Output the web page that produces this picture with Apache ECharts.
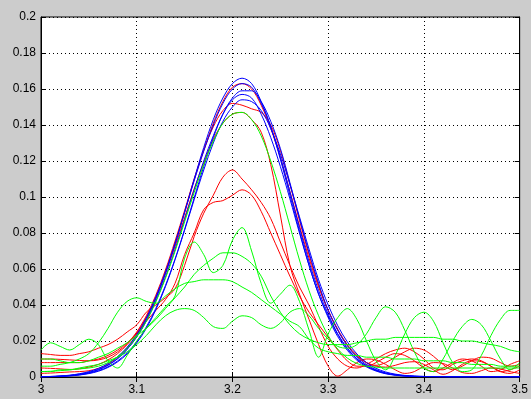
<!DOCTYPE html>
<html>
<head>
<meta charset="utf-8">
<script src="https://cdn.jsdelivr.net/npm/echarts@6/dist/echarts.min.js"></script>
<style>
  html, body { margin: 0; padding: 0; background: #cccccc; }
  #chart { width: 531px; height: 399px; }
</style>
</head>
<body>
<div id="chart"></div>
<script>
// Sample positions shared by every trace
const xs = [3.00,3.01,3.02,3.03,3.04,3.05,3.06,3.07,3.08,3.09,
            3.10,3.11,3.12,3.13,3.14,3.15,3.16,3.17,3.18,3.19,
            3.20,3.21,3.22,3.23,3.24,3.25,3.26,3.27,3.28,3.29,
            3.30,3.31,3.32,3.33,3.34,3.35,3.36,3.37,3.38,3.39,
            3.40,3.41,3.42,3.43,3.44,3.45,3.46,3.47,3.48,3.49,3.50];

const xTicks = [3, 3.1, 3.2, 3.3, 3.4, 3.5];
const yTicks = [0, 0.02, 0.04, 0.06, 0.08, 0.1, 0.12, 0.14, 0.16, 0.18, 0.2];

// Blue traces
const blue1 = [0.0001,0.0002,0.0004,0.0008,0.0014,0.0024,0.0040,0.0065,0.0101,0.0154,
  0.0224,0.0317,0.0435,0.0576,0.0739,0.0916,0.110,0.1275,0.143,0.155,
  0.163,0.166,0.163,0.153,0.139,0.121,0.101,0.081,0.062,0.046,
  0.033,0.0224,0.0148,0.0093,0.0056,0.0033,0.0018,0.0010,0.0005,0.0003,
  0.0002,0.0002,0.0001,0.0001,0.0001,0.0001,0.0001,0.0001,0.0001,0.0001,0.0001];
const blue2 = [0.0002,0.0003,0.0006,0.0010,0.0018,0.0030,0.0048,0.0075,0.0113,0.0166,
  0.0236,0.0328,0.0445,0.0584,0.0742,0.0914,0.109,0.1255,0.140,0.152,
  0.160,0.163,0.161,0.152,0.139,0.122,0.103,0.083,0.064,0.048,
  0.035,0.0240,0.0160,0.0102,0.0062,0.0037,0.0021,0.0012,0.0007,0.0004,
  0.0003,0.0002,0.0002,0.0001,0.0001,0.0001,0.0001,0.0001,0.0001,0.0001,0.0001];
const blue3 = [0.0001,0.0002,0.0003,0.0006,0.0011,0.0019,0.0032,0.0053,0.0084,0.0128,
  0.0189,0.0270,0.0374,0.0502,0.0652,0.0820,0.0995,0.117,0.133,0.146,
  0.155,0.159,0.159,0.153,0.142,0.127,0.108,0.088,0.069,0.052,
  0.037,0.0260,0.0174,0.0112,0.0069,0.0041,0.0023,0.0013,0.0007,0.0004,
  0.0003,0.0002,0.0002,0.0001,0.0001,0.0001,0.0001,0.0001,0.0001,0.0001,0.0001];
const blue4 = [0.0002,0.0003,0.0005,0.0009,0.0016,0.0026,0.0042,0.0067,0.0103,0.0155,
  0.0222,0.0310,0.0422,0.0556,0.0708,0.0874,0.104,0.120,0.134,0.146,
  0.154,0.157,0.155,0.146,0.133,0.117,0.099,0.080,0.062,0.046,
  0.034,0.0235,0.0157,0.0100,0.0061,0.0036,0.0020,0.0011,0.0006,0.0003,
  0.0002,0.0002,0.0001,0.0001,0.0001,0.0001,0.0001,0.0001,0.0001,0.0001,0.0001];
const blue5 = [0.0001,0.0002,0.0004,0.0007,0.0012,0.0021,0.0035,0.0057,0.0089,0.0135,
  0.0196,0.0278,0.0382,0.0508,0.0654,0.0815,0.0985,0.115,0.130,0.142,
  0.150,0.154,0.153,0.148,0.138,0.124,0.107,0.089,0.071,0.054,
  0.040,0.0285,0.0195,0.0128,0.0080,0.0048,0.0028,0.0016,0.0009,0.0005,
  0.0003,0.0002,0.0002,0.0001,0.0001,0.0001,0.0001,0.0001,0.0001,0.0001,0.0001];

// Red traces
const red1 = [0.0020,0.0022,0.0025,0.0028,0.0030,0.0035,0.0048,0.0072,0.0110,0.0162,
  0.0232,0.0324,0.0440,0.0580,0.0740,0.0915,0.1095,0.126,0.141,0.153,
  0.161,0.163,0.160,0.151,0.138,0.122,0.103,0.084,0.066,0.050,
  0.037,0.0265,0.0180,0.0120,0.0080,0.0060,0.0055,0.0065,0.0080,0.0085,
  0.0070,0.0040,0.0015,0.0035,0.0070,0.0090,0.0085,0.0060,0.0030,0.0020,0.0040];
const red2 = [0.0100,0.0100,0.0098,0.0095,0.0092,0.0090,0.0095,0.0110,0.0140,0.0185,
  0.0250,0.0340,0.0455,0.0595,0.0755,0.0925,0.110,0.126,0.139,0.148,
  0.152,0.151,0.149,0.147,0.140,0.126,0.107,0.087,0.068,0.051,
  0.037,0.0260,0.0175,0.0115,0.0080,0.0065,0.0080,0.0110,0.0140,0.0160,
  0.0150,0.0115,0.0070,0.0040,0.0060,0.0090,0.0110,0.0105,0.0080,0.0060,0.0070];
const red3 = [0.0050,0.0048,0.0045,0.0042,0.0045,0.0055,0.0070,0.0095,0.0130,0.0180,
  0.0245,0.0330,0.0440,0.0575,0.0725,0.0885,0.1045,0.119,0.132,0.141,
  0.146,0.147,0.143,0.136,0.118,0.090,0.062,0.046,0.032,0.018,
  0.006,0.0005,0.0040,0.0080,0.0100,0.0095,0.0070,0.0040,0.0020,0.0030,
  0.0060,0.0080,0.0075,0.0050,0.0025,0.0020,0.0035,0.0050,0.0045,0.0030,0.0020];
const red4 = [0.013,0.0125,0.012,0.012,0.013,0.014,0.016,0.018,0.021,0.025,
  0.029,0.036,0.040,0.044,0.049,0.062,0.078,0.091,0.101,0.111,
  0.115,0.110,0.104,0.097,0.088,0.075,0.062,0.050,0.040,0.028,
  0.017,0.010,0.006,0.005,0.007,0.010,0.013,0.015,0.016,0.014,
  0.010,0.005,0.004,0.007,0.009,0.010,0.009,0.006,0.003,0.004,0.006];
const red5 = [0.008,0.008,0.008,0.008,0.008,0.009,0.010,0.012,0.015,0.019,
  0.024,0.031,0.037,0.043,0.052,0.068,0.080,0.093,0.097,0.098,
  0.101,0.104,0.101,0.092,0.080,0.068,0.056,0.045,0.036,0.029,
  0.022,0.015,0.009,0.006,0.006,0.008,0.011,0.013,0.012,0.009,
  0.005,0.003,0.005,0.008,0.010,0.009,0.006,0.003,0.004,0.007,0.009];

// Green traces
const green1 = [0.0030,0.0032,0.0035,0.0040,0.0045,0.0050,0.0060,0.0080,0.0112,0.0160,
  0.0225,0.0310,0.0418,0.0548,0.0698,0.0862,0.1025,0.118,0.131,0.141,
  0.146,0.147,0.143,0.134,0.120,0.103,0.084,0.065,0.048,0.034,
  0.023,0.0155,0.0105,0.0075,0.0060,0.0055,0.0050,0.0050,0.0050,0.0050,
  0.0050,0.0050,0.0050,0.0050,0.0050,0.0050,0.0050,0.0050,0.0050,0.0050,0.0050];
const green2 = [0.015,0.019,0.017,0.015,0.018,0.021,0.018,0.009,0.005,0.012,
  0.020,0.027,0.033,0.039,0.045,0.066,0.075,0.068,0.058,0.062,
  0.076,0.083,0.070,0.052,0.041,0.046,0.051,0.042,0.026,0.011,
  0.024,0.033,0.038,0.032,0.020,0.009,0.004,0.012,0.024,0.033,
  0.036,0.031,0.019,0.008,0.003,0.004,0.012,0.023,0.032,0.037,0.037];
const green3 = [0.010,0.010,0.009,0.008,0.008,0.009,0.011,0.013,0.016,0.019,
  0.023,0.027,0.032,0.038,0.044,0.050,0.057,0.062,0.066,0.069,
  0.069,0.067,0.063,0.056,0.045,0.036,0.029,0.024,0.021,0.019,
  0.018,0.018,0.018,0.019,0.020,0.021,0.021,0.022,0.022,0.022,
  0.022,0.022,0.021,0.021,0.020,0.020,0.019,0.018,0.017,0.015,0.014];
const green4 = [0.006,0.006,0.007,0.008,0.010,0.013,0.019,0.027,0.036,0.042,
  0.044,0.042,0.041,0.045,0.049,0.052,0.053,0.054,0.054,0.054,
  0.053,0.050,0.047,0.043,0.039,0.035,0.031,0.028,0.021,0.016,
  0.014,0.013,0.012,0.012,0.011,0.011,0.011,0.010,0.010,0.010,
  0.009,0.009,0.009,0.008,0.008,0.007,0.007,0.007,0.006,0.006,0.006];
const green5 = [0.003,0.003,0.004,0.004,0.005,0.006,0.007,0.009,0.011,0.014,
  0.018,0.023,0.029,0.034,0.037,0.038,0.037,0.033,0.028,0.027,
  0.031,0.034,0.033,0.029,0.027,0.030,0.036,0.038,0.034,0.027,
  0.021,0.017,0.016,0.018,0.024,0.033,0.039,0.036,0.026,0.014,
  0.005,0.003,0.010,0.020,0.028,0.032,0.029,0.020,0.010,0.004,0.008];

const redSet = [red1, red2, red3, red4, red5];
const blueSet = [blue1, blue2, blue3, blue4, blue5];
const greenSet = [green1, green2, green3, green4, green5];

function trace(values, color) {
  return {
    type: 'line',
    data: xs.map((x, i) => [x, values[i]]),
    showSymbol: false,
    smooth: 0.35,
    lineStyle: { color: color, width: 1 },
    silent: true,
    animation: false,
    xAxisIndex: 0,
    yAxisIndex: 0
  };
}

const series = []
  .concat(redSet.map(v => trace(v, '#ff0000')))
  .concat(blueSet.map(v => trace(v, '#0000ff')))
  .concat(greenSet.map(v => trace(v, '#00ff00')));

const labelFont = { color: '#000', fontSize: 12, fontFamily: 'Liberation Sans, Arial, sans-serif' };
const dotted = { color: '#000', width: 1, type: [1, 3] };

const chart = echarts.init(document.getElementById('chart'), null, { renderer: 'canvas' });
chart.setOption({
  backgroundColor: '#cccccc',
  animation: false,
  grid: { left: 41, top: 17, width: 481, height: 360, show: true,
          backgroundColor: '#ffffff', borderColor: '#000', borderWidth: 1 },
  xAxis: [
    { type: 'value', min: 3, max: 3.5, interval: 0.1, position: 'bottom',
      axisLine: { show: true, lineStyle: { color: '#000' } },
      axisTick: { show: true, inside: true, length: 5, lineStyle: { color: '#000' } },
      axisLabel: Object.assign({ margin: 7, formatter: v => String(xTicks.find(t => Math.abs(t - v) < 1e-9) ?? v) }, labelFont),
      splitLine: { show: true, lineStyle: dotted } },
    { type: 'value', min: 3, max: 3.5, interval: 0.1, position: 'top',
      axisLine: { show: true, lineStyle: { color: '#000' } },
      axisTick: { show: true, inside: true, length: 5, lineStyle: { color: '#000' } },
      axisLabel: { show: false }, splitLine: { show: false } }
  ],
  yAxis: [
    { type: 'value', min: 0, max: 0.2, interval: 0.02, position: 'left',
      axisLine: { show: true, lineStyle: { color: '#000' } },
      axisTick: { show: true, inside: true, length: 5, lineStyle: { color: '#000' } },
      axisLabel: Object.assign({ margin: 5, formatter: v => String(yTicks.find(t => Math.abs(t - v) < 1e-9) ?? v) }, labelFont),
      splitLine: { show: true, lineStyle: dotted } },
    { type: 'value', min: 0, max: 0.2, interval: 0.02, position: 'right',
      axisLine: { show: true, lineStyle: { color: '#000' } },
      axisTick: { show: true, inside: true, length: 5, lineStyle: { color: '#000' } },
      axisLabel: { show: false }, splitLine: { show: false } }
  ],
  series: series
});
</script>
</body>
</html>
